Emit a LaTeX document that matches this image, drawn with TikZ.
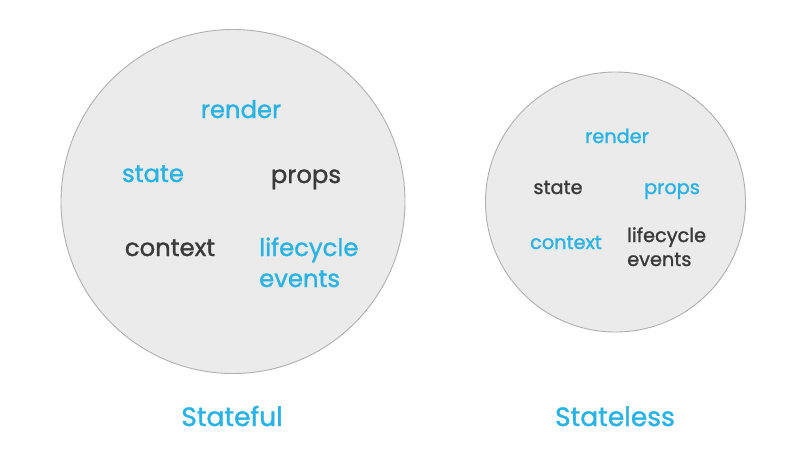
\documentclass[tikz,border=0pt]{standalone}
\usepackage{fontspec}
\setmainfont{Poppins}
\newfontfamily\medfont{Poppins}[FakeBold=1.3]
\definecolor{cblue}{RGB}{41,178,228}
\definecolor{cdark}{RGB}{58,58,58}
\definecolor{cfill}{RGB}{235,235,235}
\definecolor{cline}{RGB}{175,175,175}
\begin{document}
\begin{tikzpicture}[x=1pt,y=-1pt,
  ball/.style={circle,draw=cline,fill=cfill,line width=0.9pt,inner sep=0pt},
  big/.style={font=\medfont\fontsize{24.3}{31}\selectfont,inner sep=0pt,anchor=base},
  small/.style={font=\medfont\fontsize{19.3}{24}\selectfont,inner sep=0pt,anchor=base},
  title/.style={font=\medfont\fontsize{26.5}{30}\selectfont,inner sep=0pt,anchor=base,text=cblue},
  blu/.style={text=cblue},
  drk/.style={text=cdark}]
\useasboundingbox (0,0) rectangle (800,451);
\fill[white] (0,0) rectangle (800,451);
% left circle
\node[ball,minimum size=344pt] (L) at (233,201.5) {};
\node[big,blu] (Lrender) at (241,118) {render};
\node[big,blu] (Lstate) at (153,182) {state};
\node[big,drk] (Lprops) at (306,183) {props};
\node[big,drk] (Lcontext) at (170,256) {context};
\node[big,blu,anchor=base west,align=left] (Llife) at (259,287) {lifecycle\\events};
\node[title] (Ltitle) at (232,426) {Stateful};
% right circle
\node[ball,minimum size=260pt] (R) at (615.5,202) {};
\node[small,blu] (Rrender) at (617,143) {render};
\node[small,drk] (Rstate) at (558,194) {state};
\node[small,blu] (Rprops) at (672,194) {props};
\node[small,blu] (Rcontext) at (566,249) {context};
\node[small,drk,anchor=base west,align=left] (Rlife) at (627,266) {lifecycle\\events};
\node[title] (Rtitle) at (615,426) {Stateless};
\end{tikzpicture}
\end{document}
